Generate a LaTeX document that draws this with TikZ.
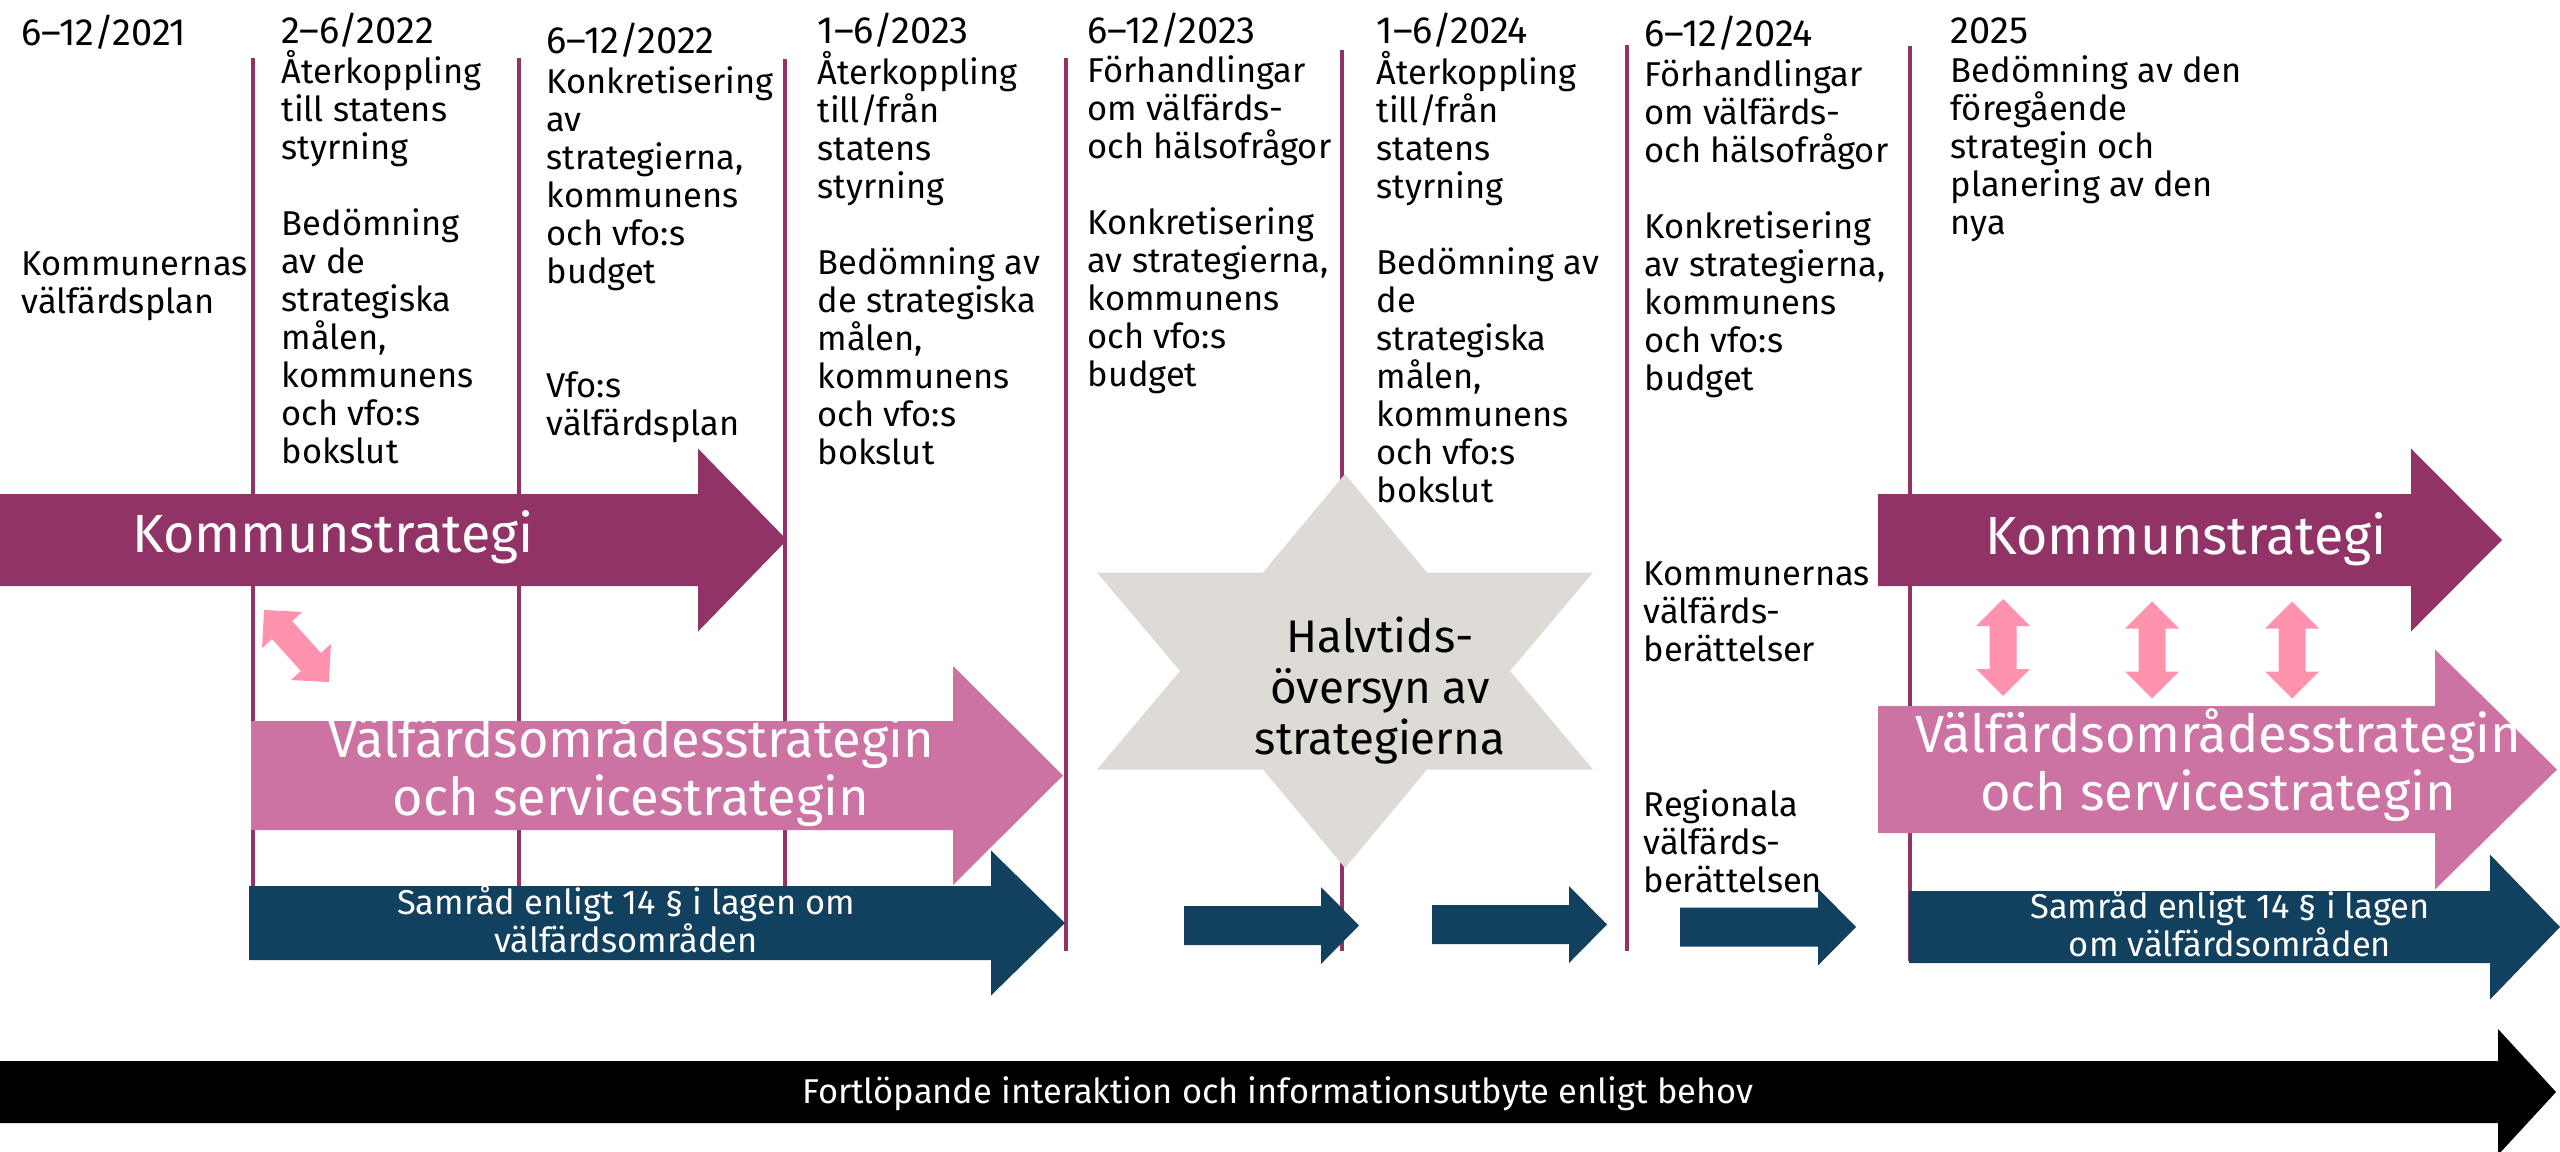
\documentclass[tikz,border=0pt]{standalone}
\usepackage{fontspec}
\setmainfont{Fira Sans}
\usepackage{tikz}

\definecolor{kommunlila}{HTML}{913366}
\definecolor{vfrosa}{HTML}{CD73A4}
\definecolor{samradbla}{HTML}{12405F}
\definecolor{pilrosa}{HTML}{FF93AE}
\definecolor{stjarngra}{HTML}{DEDAD6}

\tikzset{
  datum/.style={anchor=base west, inner sep=0pt, font=\fontsize{10.8}{12}\selectfont},
  brodtext/.style={anchor=base west, inner sep=0pt, align=left, font=\fontsize{9.8}{10.8}\selectfont},
  piltext/.style={anchor=base, inner sep=0pt, align=center, text=white, font=\fontsize{15.3}{16.3}\selectfont},
  vftext/.style={piltext, font=\fontsize{14.9}{16.3}\selectfont},
  smapiltext/.style={anchor=base, inner sep=0pt, align=center, text=white, font=\fontsize{9.8}{10.6}\selectfont},
  stjarntext/.style={anchor=base, inner sep=0pt, align=center, font=\fontsize{13}{14.5}\selectfont},
  tidslinje/.style={draw=kommunlila, line width=1.1pt}
}

% blockpil: farg, x start, x spets-bas, x spets, y mitt, halv bredd, halv spetsbredd
\newcommand{\blockpil}[7]{%
  \fill[#1] (#2,{#5-#6}) -- (#3,{#5-#6}) -- (#3,{#5-#7}) -- (#4,#5)
    -- (#3,{#5+#7}) -- (#3,{#5+#6}) -- (#2,{#5+#6}) -- cycle;}
% dubbelpil: x, y, vinkel
\newcommand{\dubbelpil}[3]{%
  \fill[pilrosa, shift={(#1,#2)}, rotate=#3] (0,-0.485) -- (0.27,-0.215) -- (0.135,-0.215)
    -- (0.135,0.215) -- (0.27,0.215) -- (0,0.485) -- (-0.27,0.215) -- (-0.135,0.215)
    -- (-0.135,-0.215) -- (-0.27,-0.215) -- cycle;}

\begin{document}
\begin{tikzpicture}[y=-1cm]
        \useasboundingbox (0,0) rectangle (25.6,11.51);
        % tidslinjer
        \draw[tidslinje] (2.53,0.58) -- (2.53,9.6);
        \draw[tidslinje] (5.19,0.58) -- (5.19,9.0);
        \draw[tidslinje] (7.85,0.59) -- (7.85,9.0);
        \draw[tidslinje] (10.66,0.58) -- (10.66,9.51);
        \draw[tidslinje] (13.42,0.50) -- (13.42,9.51);
        \draw[tidslinje] (16.27,0.45) -- (16.27,9.51);
        \draw[tidslinje] (19.10,0.46) -- (19.10,9.61);
        % pilar
        \blockpil{kommunlila}{0}{6.98}{7.87}{5.40}{0.46}{0.915}
        \blockpil{vfrosa}{2.51}{9.53}{10.63}{7.755}{0.545}{1.095}
        \blockpil{samradbla}{2.49}{9.91}{10.65}{9.23}{0.37}{0.725}
        \blockpil{samradbla}{11.84}{13.21}{13.59}{9.255}{0.195}{0.385}
        \blockpil{samradbla}{14.32}{15.69}{16.07}{9.245}{0.195}{0.385}
        \blockpil{samradbla}{16.80}{18.18}{18.56}{9.27}{0.195}{0.385}
        \blockpil{kommunlila}{18.78}{24.11}{25.02}{5.40}{0.46}{0.915}
        \blockpil{vfrosa}{18.78}{24.35}{25.57}{7.695}{0.635}{1.2}
        \blockpil{samradbla}{19.09}{24.90}{25.60}{9.27}{0.36}{0.725}
        \blockpil{black}{0}{24.98}{25.56}{10.92}{0.31}{0.63}
        \dubbelpil{2.965}{6.46}{42}
        \dubbelpil{20.03}{6.475}{0}
        \dubbelpil{21.52}{6.50}{0}
        \dubbelpil{22.92}{6.50}{0}
        % halvtidsstjarna
        \fill[stjarngra] (13.45,4.74) -- (14.27,5.725) -- (15.93,5.725) -- (15.10,6.71)
            -- (15.93,7.695) -- (14.27,7.695) -- (13.45,8.68) -- (12.63,7.695)
            -- (10.97,7.695) -- (11.80,6.71) -- (10.97,5.725) -- (12.63,5.725) -- cycle;
        % datum
        \node[datum] (D1) at (0.21,0.45) {6--12/2021};
        \node[datum] (D2) at (2.81,0.43) {2--6/2022};
        \node[datum] (D3) at (5.46,0.53) {6--12/2022};
        \node[datum] (D4) at (8.17,0.43) {1--6/2023};
        \node[datum] (D5) at (10.87,0.43) {6--12/2023};
        \node[datum] (D6) at (13.76,0.43) {1--6/2024};
        \node[datum] (D7) at (16.44,0.46) {6--12/2024};
        \node[datum] (D8) at (19.50,0.43) {2025};
        % texter (base = sista raden)
        \node[brodtext] (T1) at (0.21,3.13) {Kommunernas\\välfärdsplan};
        \node[brodtext] (T2) at (2.81,4.63) {Återkoppling\\till statens\\styrning\\[10.8pt]Bedömning\\av de\\strategiska\\målen,\\kommunens\\och vfo:s\\bokslut};
        \node[brodtext] (T3) at (5.46,4.35) {Konkretisering\\av\\strategierna,\\kommunens\\och vfo:s\\budget\\[21.6pt]Vfo:s\\välfärdsplan};
        \node[brodtext] (T4) at (8.17,4.64) {Återkoppling\\till/från\\statens\\styrning\\[10.8pt]Bedömning av\\de strategiska\\målen,\\kommunens\\och vfo:s\\bokslut};
        \node[brodtext] (T5) at (10.87,3.86) {Förhandlingar\\om välfärds-\\och hälsofrågor\\[10.8pt]Konkretisering\\av strategierna,\\kommunens\\och vfo:s\\budget};
        \node[brodtext] (T6) at (13.76,5.02) {Återkoppling\\till/från\\statens\\styrning\\[10.8pt]Bedömning av\\de\\strategiska\\målen,\\kommunens\\och vfo:s\\bokslut};
        \node[brodtext] (T7) at (16.44,3.90) {Förhandlingar\\om välfärds-\\och hälsofrågor\\[10.8pt]Konkretisering\\av strategierna,\\kommunens\\och vfo:s\\budget};
        \node[brodtext] (R1) at (16.43,6.61) {Kommunernas\\välfärds-\\berättelser};
        \node[brodtext] (R2) at (16.43,8.92) {Regionala\\välfärds-\\berättelsen};
        \node[brodtext] (T8) at (19.50,2.34) {Bedömning av den\\föregående\\strategin och\\planering av den\\nya};
        % pilarnas texter
        \node[piltext] (K1) at (3.33,5.52) {Kommunstrategi};
        \node[piltext] (K2) at (21.86,5.54) {Kommunstrategi};
        \node[vftext] (V1) at (6.31,8.15) {Välfärdsområdesstrategin\\och servicestrategin};
        \node[vftext] (V2) at (22.18,8.10) {Välfärdsområdesstrategin\\och servicestrategin};
        \node[smapiltext] (S1) at (6.26,9.52) {Samråd enligt 14 § i lagen om\\välfärdsområden};
        \node[smapiltext] (S2) at (22.30,9.56) {Samråd enligt 14 § i lagen\\om välfärdsområden};
        \node[stjarntext] (H) at (13.80,7.54) {Halvtids-\\översyn av\\strategierna};
        \node[smapiltext] (F) at (12.78,11.03) {Fortlöpande interaktion och informationsutbyte enligt behov};
    \end{tikzpicture}
\end{document}
